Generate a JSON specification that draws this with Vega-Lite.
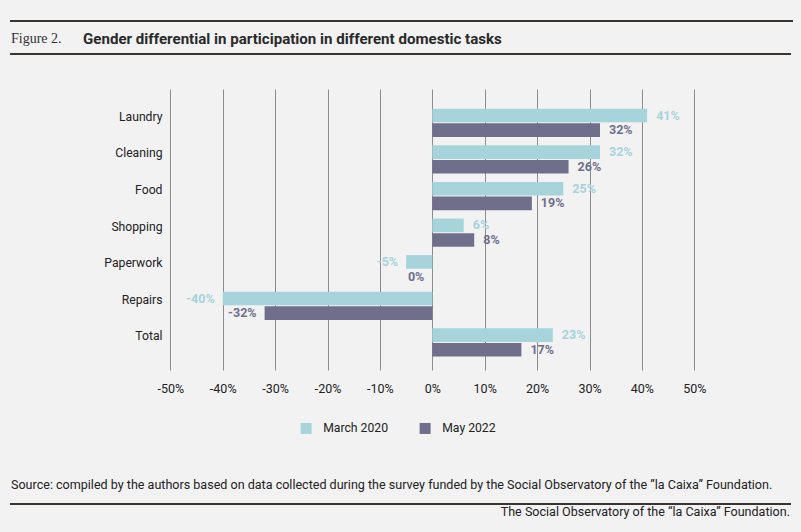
{
  "$schema": "https://vega.github.io/schema/vega-lite/v6.json",
  "description": "Gender differential in participation in different domestic tasks",
  "background": "#f2f2f2",
  "padding": {"left": 10, "right": 9, "top": 20, "bottom": 14},
  "spacing": 0,
  "resolve": {"scale": {"color": "independent"}, "legend": {"color": "independent"}},
  "config": {
    "font": "Roboto",
    "locale": {
      "number": {"decimal": ".", "thousands": ",", "grouping": [3], "currency": ["", ""], "minus": "-"}
    },
    "view": {"stroke": null}
  },
  "vconcat": [
    {
      "spacing": 0,
      "hconcat": [
        {
          "data": {"values": []},
          "mark": "point",
          "encoding": {},
          "width": 70,
          "height": 0.01,
          "view": {"stroke": "#3a3431", "strokeWidth": 2},
          "title": {
            "text": "Figure 2.",
            "orient": "bottom",
            "anchor": "start",
            "frame": "group",
            "offset": 10.5,
            "font": "Liberation Serif",
            "fontSize": 14,
            "fontWeight": "normal",
            "color": "#333333"
          }
        },
        {
          "data": {"values": []},
          "mark": "point",
          "encoding": {},
          "width": 709,
          "height": 0.01,
          "view": {"stroke": "#3a3431", "strokeWidth": 2},
          "title": {
            "text": "Gender differential in participation in different domestic tasks",
            "orient": "bottom",
            "anchor": "start",
            "frame": "group",
            "offset": 10.5,
            "font": "Roboto",
            "fontSize": 15.1,
            "fontWeight": "bold",
            "color": "#2a2a2a"
          }
        }
      ]
    },
    {
      "data": {"values": []},
      "mark": "point",
      "encoding": {},
      "width": 779,
      "height": 5,
      "view": {"stroke": null}
    },
    {
      "data": {"values": []},
      "mark": "point",
      "encoding": {},
      "width": 779,
      "height": 0.01,
      "view": {"stroke": "#3a3431", "strokeWidth": 2}
    },
    {
      "data": {"values": []},
      "mark": "point",
      "encoding": {},
      "width": 779,
      "height": 33,
      "view": {"stroke": null}
    },
    {
      "width": 779,
      "height": 281,
      "data": {
        "values": [
          {"task": "Laundry", "period": "March 2020", "value": 0.41},
          {"task": "Laundry", "period": "May 2022", "value": 0.32},
          {"task": "Cleaning", "period": "March 2020", "value": 0.32},
          {"task": "Cleaning", "period": "May 2022", "value": 0.26},
          {"task": "Food", "period": "March 2020", "value": 0.25},
          {"task": "Food", "period": "May 2022", "value": 0.19},
          {"task": "Shopping", "period": "March 2020", "value": 0.06},
          {"task": "Shopping", "period": "May 2022", "value": 0.08},
          {"task": "Paperwork", "period": "March 2020", "value": -0.05},
          {"task": "Paperwork", "period": "May 2022", "value": 0.0},
          {"task": "Repairs", "period": "March 2020", "value": -0.40},
          {"task": "Repairs", "period": "May 2022", "value": -0.32},
          {"task": "Total", "period": "March 2020", "value": 0.23},
          {"task": "Total", "period": "May 2022", "value": 0.17}
        ]
      },
      "encoding": {
        "y": {
          "field": "task",
          "type": "nominal",
          "sort": ["Laundry", "Cleaning", "Food", "Shopping", "Paperwork", "Repairs", "Total"],
          "scale": {"paddingInner": 0.227, "paddingOuter": 0.4525, "align": 0.595},
          "axis": {
            "title": null,
            "ticks": false,
            "domain": false,
            "offset": -159,
            "labelPadding": 8,
            "labelOffset": -6,
            "labelFontSize": 12.2,
            "labelColor": "#222222"
          }
        },
        "yOffset": {
          "field": "period",
          "type": "nominal",
          "sort": ["March 2020", "May 2022"],
          "scale": {"paddingInner": 0.07}
        },
        "x": {
          "field": "value",
          "type": "quantitative",
          "scale": {"domain": [-0.80401, 0.68263], "nice": false, "zero": false},
          "axis": {
            "title": null,
            "format": ".0%",
            "values": [-0.5, -0.4, -0.3, -0.2, -0.1, 0, 0.1, 0.2, 0.3, 0.4, 0.5],
            "grid": true,
            "gridColor": "#8c8c8c",
            "gridOpacity": 1,
            "ticks": false,
            "tickSize": 0,
            "domain": false,
            "labelPadding": 12,
            "labelFontSize": 12.5,
            "labelColor": "#222222"
          }
        }
      },
      "layer": [
        {
          "mark": {"type": "bar"},
          "encoding": {
            "color": {
              "field": "period",
              "type": "nominal",
              "scale": {"domain": ["March 2020", "May 2022"], "range": ["#a7d3db", "#6f6f8c"]},
              "legend": {
                "title": null,
                "orient": "none",
                "legendX": 289,
                "legendY": 333,
                "direction": "horizontal",
                "symbolType": "square",
                "symbolSize": 121,
                "symbolStrokeWidth": 0,
                "symbolOpacity": 1,
                "labelFontSize": 12.2,
                "labelColor": "#222222",
                "labelOffset": 11,
                "columnPadding": 31
              }
            }
          }
        },
        {
          "transform": [{"filter": "datum.value > 0"}],
          "mark": {"type": "text", "align": "left", "baseline": "middle", "dx": 9, "fontWeight": "bold", "fontSize": 12.5},
          "encoding": {
            "text": {"field": "value", "type": "quantitative", "format": ".0%"},
            "color": {
              "condition": {"test": "datum.period === 'March 2020'", "value": "#a7d3db"},
              "value": "#6f6f8c"
            }
          }
        },
        {
          "transform": [{"filter": "datum.value <= 0"}],
          "mark": {"type": "text", "align": "right", "baseline": "middle", "dx": -8, "fontWeight": "bold", "fontSize": 12.5},
          "encoding": {
            "text": {"field": "value", "type": "quantitative", "format": ".0%"},
            "color": {
              "condition": {"test": "datum.period === 'March 2020'", "value": "#a7d3db"},
              "value": "#6f6f8c"
            }
          }
        }
      ]
    },
    {
      "data": {"values": []},
      "mark": "point",
      "encoding": {},
      "width": 779,
      "height": 43,
      "view": {"stroke": null}
    },
    {
      "data": {"values": []},
      "mark": "point",
      "encoding": {},
      "width": 779,
      "height": 0.01,
      "view": {"stroke": "#3a3431", "strokeWidth": 2},
      "title": {
        "text": "Source: compiled by the authors based on data collected during the survey funded by the Social Observatory of the ”la Caixa” Foundation.",
        "orient": "top",
        "anchor": "start",
        "frame": "group",
        "offset": 12,
        "font": "Roboto",
        "fontSize": 12.55,
        "fontWeight": "normal",
        "color": "#222222"
      }
    },
    {
      "data": {"values": []},
      "mark": "point",
      "encoding": {},
      "width": 779,
      "height": 0.01,
      "view": {"stroke": null},
      "title": {
        "text": "The Social Observatory of the “la Caixa” Foundation.",
        "orient": "top",
        "anchor": "end",
        "frame": "group",
        "offset": 0,
        "font": "Roboto",
        "fontSize": 12.55,
        "fontWeight": "normal",
        "color": "#222222"
      }
    }
  ]
}
